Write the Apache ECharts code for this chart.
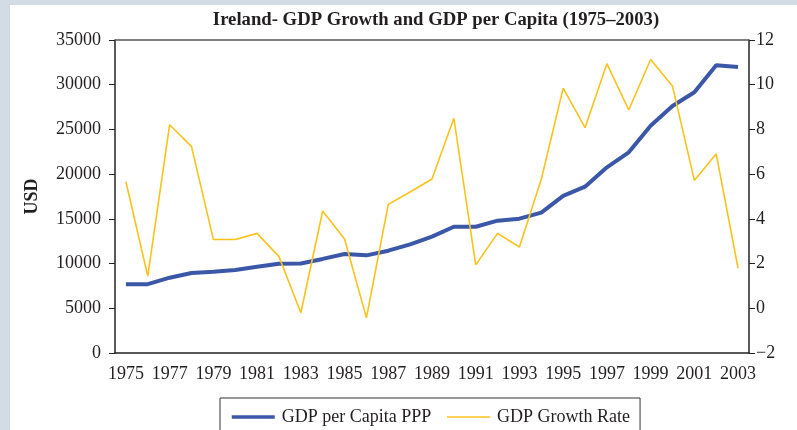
<!doctype html>
<html>
<head>
<meta charset="utf-8">
<title>Ireland GDP</title>
<script src="https://cdn.jsdelivr.net/npm/echarts@6/dist/echarts.min.js"></script>
<style>
	html, body { margin: 0; padding: 0; background: #d3dce5; }
	#main {
		position: absolute;
		left: 10px;
		top: 5px;
		width: 787px;
		height: 425px;
		background: #fff;
	}
</style>
</head>
<body>
<div id="main"></div>
<script>
	// 数据
	var years = ['1975','1976','1977','1978','1979','1980','1981','1982','1983','1984',
		'1985','1986','1987','1988','1989','1990','1991','1992','1993','1994',
		'1995','1996','1997','1998','1999','2000','2001','2002','2003'];
	var gdpPerCapita = [7700, 7700, 8420, 8950, 9090, 9280, 9650, 9990, 10000, 10520,
		11070, 10920, 11440, 12150, 13010, 14120, 14120, 14800, 15020, 15690,
		17560, 18600, 20760, 22440, 25420, 27620, 29150, 32170, 31980];
	var growthRate = [5.66, 1.44, 8.21, 7.23, 3.08, 3.08, 3.35, 2.31, -0.2, 4.35,
		3.10, -0.43, 4.65, 5.2, 5.78, 8.50, 1.94, 3.35, 2.74, 5.77,
		9.85, 8.08, 10.94, 8.87, 11.13, 9.94, 5.72, 6.91, 1.79];

	var txt = '#231f20';
	var font = 'Liberation Serif';

	var myChart = echarts.init(document.getElementById('main'));
	var option = {
		animation: false,
		textStyle: { fontFamily: font, color: txt },
		title: {
			text: 'Ireland- GDP Growth and GDP per Capita (1975–2003)',
			left: 421, top: 1, textAlign: 'center',
			textStyle: { fontFamily: font, fontSize: 18.7, fontWeight: 'bold', color: txt }
		},
		legend: {
			left: 210, top: 393,
			padding: [10, 10, 30, 10],
			borderColor: '#333', borderWidth: 1,
			itemWidth: 43, itemHeight: 14, itemGap: 15,
			itemStyle: { opacity: 0 },
			textStyle: { fontFamily: font, fontSize: 18, color: txt, padding: [0, 0, 0, 2] },
			data: [
				{ name: 'GDP per Capita PPP', lineStyle: { width: 3.5 } },
				{ name: 'GDP Growth Rate', lineStyle: { width: 1.6 } }
			]
		},
		grid: { left: 105, right: 48, top: 35, bottom: 77 },
		xAxis: {
			type: 'category',
			data: years,
			boundaryGap: true,
			axisLine: { lineStyle: { color: '#222', width: 1.5 } },
			axisTick: { interval: 0, length: 5, lineStyle: { color: '#222' } },
			axisLabel: { interval: 1, fontFamily: font, fontSize: 18, color: txt, margin: 12 }
		},
		yAxis: [
			{
				type: 'value', min: 0, max: 35000, interval: 5000,
				name: 'USD', nameLocation: 'middle', nameGap: 74, nameRotate: 90,
				nameTextStyle: { fontFamily: font, fontSize: 18, fontWeight: 'bold', color: txt },
				axisLine: { show: true, lineStyle: { color: '#222', width: 1.5 } },
				axisTick: { show: true, length: 6, lineStyle: { color: '#222' } },
				axisLabel: {
					fontFamily: font, fontSize: 18, color: txt, margin: 14,
					formatter: function (v) { return String(v); }
				},
				splitLine: { show: false }
			},
			{
				type: 'value', min: -2, max: 12, interval: 2,
				axisLine: { show: true, lineStyle: { color: '#222', width: 1.5 } },
				axisTick: { show: true, length: 6, lineStyle: { color: '#222' } },
				axisLabel: {
					fontFamily: font, fontSize: 18, color: txt, margin: 7,
					formatter: function (v) { return v < 0 ? '\u2212' + Math.abs(v) : String(v); }
				},
				splitLine: { show: false }
			}
		],
		series: [
			{
				name: 'GDP per Capita PPP', type: 'line', yAxisIndex: 0,
				data: gdpPerCapita, symbol: 'none',
				lineStyle: { color: '#3b58a8', width: 4 },
				itemStyle: { color: '#3b58a8' },
				markLine: {
					silent: true, symbol: 'none', label: { show: false },
					lineStyle: { color: '#555', width: 1.5, type: 'solid' },
					data: [{ yAxis: 35000 }]
				}
			},
			{
				name: 'GDP Growth Rate', type: 'line', yAxisIndex: 1,
				data: growthRate, symbol: 'none',
				lineStyle: { color: '#fbc21b', width: 1.6 },
				itemStyle: { color: '#fbc21b' }
			}
		]
	};
	myChart.setOption(option);
</script>
</body>
</html>
